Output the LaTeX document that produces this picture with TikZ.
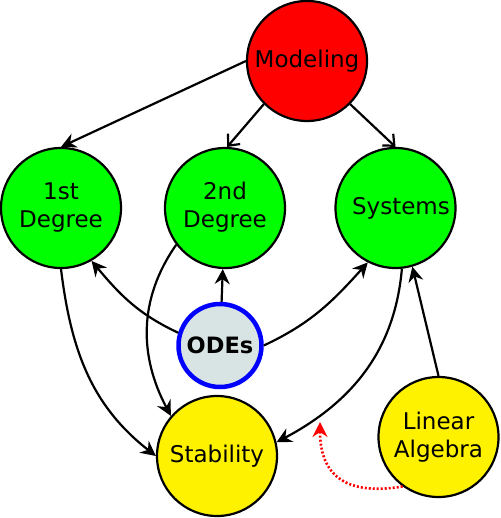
\documentclass[tikz,border=0pt]{standalone}
\usepackage{fontspec}
\setmainfont{DejaVu Sans}
\usetikzlibrary{arrows.meta}
\definecolor{odefill}{RGB}{216,228,228}
\tikzset{
  concept/.style={circle, draw=black, line width=2.2pt, minimum size=120pt, inner sep=0pt, align=center,
    font=\fontsize{23}{28}\selectfont},
  redc/.style={concept, fill=red},
  greenc/.style={concept, fill={rgb,255:red,0;green,255;blue,0}},
  yellowc/.style={concept, fill=yellow},
  odec/.style={circle, draw=blue, line width=4.5pt, fill=odefill, minimum size=83pt, inner sep=0pt,
    font=\fontsize{22.5}{26}\selectfont\bfseries},
  edge/.style={line width=2.2pt, -{Stealth[length=15pt,width=15pt,inset=5pt]}},
  openedge/.style={line width=2.2pt, -{Straight Barb[length=9pt,width=16pt]}},
  dotedge/.style={red, line width=2.6pt, dash pattern=on 2pt off 2pt, -{Stealth[length=15pt,width=15pt,inset=5pt,sep=-2pt]}},
}
\begin{document}
\begin{tikzpicture}[x=1pt,y=1pt]
\useasboundingbox (0,0) rectangle (500,-518);
\node[redc] (mod) at (307,-61) {\raisebox{-3pt}{Modeling}};
\node[greenc] (d1) at (61,-208) {1st\\Degree};
\node[greenc] (d2) at (225,-208) {\raisebox{-6pt}{\begin{tabular}{@{}c@{}}2nd\\Degree\end{tabular}}};
\node[greenc] (sys) at (395.5,-208) {\hspace*{11pt}\raisebox{-3pt}{Systems}};
\node[odec] (odes) at (220,-345.5) {ODEs};
\node[yellowc] (stab) at (217,-456) {\raisebox{3pt}{Stability}};
\node[yellowc] (la) at (438.5,-437) {Linear\\Algebra};
\coordinate (redtip) at (320,-424);

\draw[edge] (mod.west) -- (d1.north);
\draw[openedge] (mod.-135) -- (d2.88);
\draw[openedge] (mod.-45) -- (sys.north);

\draw[edge] (odes.163) to[out=155, in=-50] (d1.-60);
\draw[edge] (odes) -- (d2);
\draw[edge] (odes.east) to[out=25, in=-132] (sys.-117);

\draw[edge] (d1.south) to[out=-83, in=142] (stab.west);
\draw[edge] (d2.-143) to[out=-125, in=118] (stab.139);
\draw[edge] (sys.-84) to[out=-95, in=28] (stab.13);

\draw[edge] (la.north) -- (sys.-74);
\draw[dotedge] (la.-126) .. controls (340,-497) and (320,-470) .. (redtip);
\end{tikzpicture}
\end{document}
